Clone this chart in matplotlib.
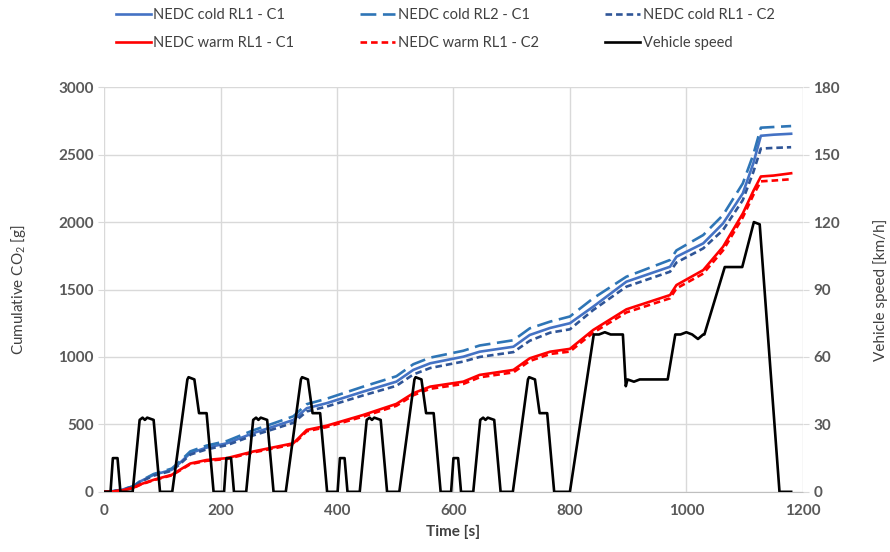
import matplotlib
matplotlib.use('Agg')
import matplotlib.pyplot as plt
from matplotlib.ticker import MultipleLocator

plt.rcParams['font.family'] = ['Lato', 'DejaVu Sans']
plt.rcParams['mathtext.fontset'] = 'custom'
plt.rcParams['mathtext.rm'] = 'Lato'
plt.rcParams['mathtext.default'] = 'regular'

# cumulative CO2 curves [g]
t_co2 = [0, 15, 30, 50, 62, 85, 116, 130, 148, 176, 211, 256, 291, 325, 348, 382,
         445, 502, 531, 560, 617, 645, 703, 731, 766, 800, 840, 897, 972, 983,
         1029, 1063, 1097, 1115, 1128, 1150, 1180]
cold_rl1_c1 = [0, 5, 15, 40, 77, 126, 163, 214, 287, 328, 360, 435, 484, 533, 620, 657,
               743, 817, 904, 953, 1002, 1039, 1076, 1163, 1215, 1250, 1373, 1558, 1669, 1743,
               1842, 1990, 2213, 2435, 2640, 2648, 2655]
cold_rl2_c1 = [0, 5, 16, 42, 80, 132, 172, 225, 300, 343, 377, 456, 508, 560, 650, 690,
               780, 857, 946, 995, 1046, 1085, 1124, 1212, 1262, 1300, 1435, 1595, 1719, 1790,
               1904, 2052, 2287, 2500, 2700, 2705, 2712]
cold_rl1_c2 = [0, 5, 14, 38, 73, 120, 156, 205, 276, 315, 346, 418, 465, 512, 596, 632,
               715, 786, 870, 918, 966, 1000, 1036, 1120, 1180, 1205, 1348, 1521, 1632, 1700,
               1805, 1941, 2163, 2370, 2545, 2550, 2555]
warm_rl1_c1 = [0, 3, 10, 30, 55, 89, 126, 163, 210, 236, 250, 299, 330, 360, 459, 490,
               570, 652, 731, 780, 817, 867, 904, 990, 1039, 1060, 1200, 1353, 1459, 1533,
               1644, 1817, 2064, 2230, 2338, 2345, 2362]
warm_rl1_c2 = [0, 3, 9, 28, 52, 86, 122, 158, 205, 230, 244, 292, 322, 352, 449, 480,
               558, 638, 716, 764, 800, 849, 886, 970, 1022, 1040, 1180, 1330, 1435, 1508,
               1618, 1790, 2035, 2200, 2302, 2308, 2318]

# vehicle speed [km/h]
t_speed = [0, 11, 15, 23, 28, 49, 61, 66, 70, 74, 85, 96, 117, 143, 145, 155, 163, 176, 188,
           206, 210, 218, 223, 244, 256, 261, 265, 269, 280, 291, 312, 338, 340, 350, 358, 371, 383,
           401, 405, 413, 418, 439, 451, 456, 460, 464, 475, 486, 507, 533, 535, 545, 553, 566, 578,
           596, 600, 608, 613, 634, 646, 651, 655, 659, 670, 681, 702, 728, 730, 740, 748, 761, 773,
           800, 841, 850, 860, 870, 891, 896, 899, 910, 920, 930, 945, 968, 981, 990, 1000,
           1010, 1020, 1029, 1031, 1066, 1096, 1116, 1126, 1160, 1180]
speed = [0, 0, 15, 15, 0, 0, 32, 33, 32, 33, 32, 0, 0, 50, 51, 50, 35, 35, 0,
         0, 15, 15, 0, 0, 32, 33, 32, 33, 32, 0, 0, 50, 51, 50, 35, 35, 0,
         0, 15, 15, 0, 0, 32, 33, 32, 33, 32, 0, 0, 50, 51, 50, 35, 35, 0,
         0, 15, 15, 0, 0, 32, 33, 32, 33, 32, 0, 0, 50, 51, 50, 35, 35, 0,
         0, 70, 70, 71, 70, 70, 47, 50, 49, 50, 50, 50, 50, 70, 70, 71,
         70, 68, 70, 70, 100, 100, 120, 119, 0, 0]

x_ticks = [0, 200, 400, 600, 800, 1000, 1200]

grid_c = '#D9D9D9'
tick_c = '#595959'
label_c = '#404040'

fig, ax = plt.subplots(figsize=(8.9, 5.52), dpi=100)
fig.subplots_adjust(left=0.117, right=0.902, bottom=0.109, top=0.842)

l1, = ax.plot(t_co2, cold_rl1_c1, color='#4472C4', lw=1.9, label='NEDC cold RL1 - C1')
l2, = ax.plot(t_co2, cold_rl2_c1, color='#2E75B6', lw=1.9, ls=(0, (6, 2.5)),
              label='NEDC cold RL2 - C1')
l3, = ax.plot(t_co2, cold_rl1_c2, color='#2F5597', lw=1.9, ls=(0, (2.5, 1.5)),
              label='NEDC cold RL1 - C2')
l4, = ax.plot(t_co2, warm_rl1_c1, color='#FF0000', lw=1.9, label='NEDC warm RL1 - C1')
l5, = ax.plot(t_co2, warm_rl1_c2, color='#FF0000', lw=1.9, ls=(0, (2.5, 1.5)),
              label='NEDC warm RL1 - C2')

ax.set_xlim(0, 1200)
ax.set_ylim(0, 3000)
ax.set_xticks(x_ticks)
ax.yaxis.set_major_locator(MultipleLocator(500))
ax.grid(True, color=grid_c, lw=1)
ax.set_axisbelow(True)
for s in ['top', 'left', 'right']:
    ax.spines[s].set_visible(False)
ax.spines['bottom'].set_color('#BFBFBF')

ax2 = ax.twinx()
l6, = ax2.plot(t_speed, speed, color='black', lw=1.9, label='Vehicle speed')
ax2.set_ylim(0, 180)
ax2.yaxis.set_major_locator(MultipleLocator(30))
for s in ['top', 'left', 'right', 'bottom']:
    ax2.spines[s].set_visible(False)

for a in [ax, ax2]:
    a.tick_params(axis='both', colors=grid_c, labelcolor=tick_c, labelsize=11, length=4)
    for lab in a.get_xticklabels() + a.get_yticklabels():
        lab.set_fontweight('bold')
ax.tick_params(axis='x', length=0, pad=9)

ax.set_xlabel('Time [s]', color=label_c, fontsize=11, fontweight='bold', labelpad=5)
ax.set_ylabel('Cumulative CO$_2$ [g]', color=label_c, fontsize=11, labelpad=22)
ax2.set_ylabel('Vehicle speed [km/h]', color=label_c, fontsize=11, labelpad=24)

handles = [l1, l2, l3, l4, l5, l6]
order = [0, 3, 1, 4, 2, 5]
leg = fig.legend([handles[i] for i in order], [handles[i].get_label() for i in order],
                 loc='upper center', bbox_to_anchor=(0.5, 1.01), ncol=3, frameon=False,
                 fontsize=10.5, handlelength=2.4, handletextpad=0.2, columnspacing=4.5,
                 labelspacing=1.0)
for txt in leg.get_texts():
    txt.set_color(label_c)

plt.savefig('out.png', dpi=100)
